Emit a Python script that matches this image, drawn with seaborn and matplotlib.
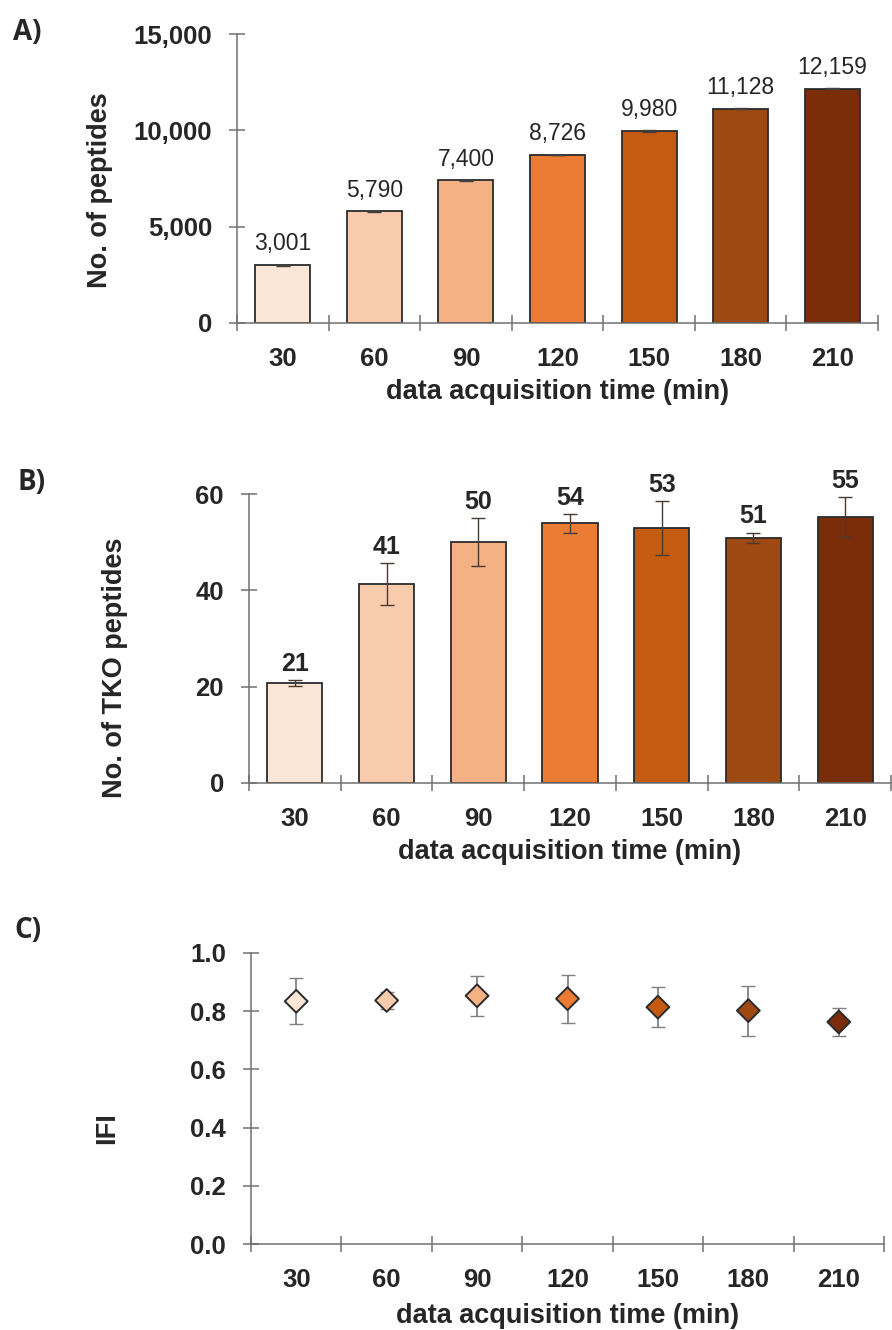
import matplotlib
matplotlib.use("Agg")
import matplotlib.pyplot as plt
import seaborn as sns
import numpy as np

# data
times = ["30", "60", "90", "120", "150", "180", "210"]
peptides = [3001, 5790, 7400, 8726, 9980, 11128, 12159]
peptides_err = [20, 45, 45, 15, 50, 15, 15]
tko = [20.7, 41.3, 50.0, 53.9, 52.9, 50.9, 55.2]
tko_err = [0.6, 4.4, 5.0, 2.0, 5.6, 1.1, 4.1]
tko_labels = ["21", "41", "50", "54", "53", "51", "55"]
ifi = [0.834, 0.837, 0.853, 0.843, 0.814, 0.802, 0.763]
ifi_err = [0.079, 0.03, 0.068, 0.083, 0.07, 0.086, 0.049]
colors = ["#FBE5D6", "#F8CBAD", "#F4B183", "#EC7C33", "#C55A11", "#9E4812", "#7B2C08"]

sns.set_style("ticks")
plt.rcParams["font.family"] = ["Liberation Sans", "DejaVu Sans"]

W, H = 892, 1330
AXIS_COL = "#707070"
EDGE = "#2b2b2b"
TICK_FS = 18.5
LAB_FS = 19.5


def add_axes(fig, left, right, top, bottom):
    return fig.add_axes([left / W, 1 - bottom / H, (right - left) / W, (bottom - top) / H])


def style_axis(ax, ymax, yticks, yticklabels):
    sns.despine(ax=ax)
    for s in ["left", "bottom"]:
        ax.spines[s].set_color(AXIS_COL)
        ax.spines[s].set_linewidth(1.1)
    ax.set_xlim(-0.5, 6.5)
    ax.set_ylim(0, ymax)
    # labels at category centres, tick marks between categories
    ax.set_xticks(range(len(times)))
    ax.set_xticklabels(times, fontsize=TICK_FS, fontweight="bold")
    ax.tick_params(axis="x", which="major", bottom=True, length=0, pad=17)
    ax.set_xticks(np.arange(-0.5, len(times), 1), minor=True)
    ax.tick_params(axis="x", which="minor", bottom=True, direction="inout", length=12,
                   color=AXIS_COL, width=1.1)
    ax.set_yticks(yticks)
    ax.set_yticklabels(yticklabels, fontsize=TICK_FS, fontweight="bold")
    ax.tick_params(axis="y", left=True, direction="inout", length=12, color=AXIS_COL,
                   width=1.1, pad=12)
    ax.set_xlabel("data acquisition time (min)", fontsize=LAB_FS, fontweight="bold",
                  va="center")


fig = plt.figure(figsize=(W / 100, H / 100), dpi=100)
fig.patch.set_facecolor("white")

# ---- A) number of peptides
axA = add_axes(fig, 237, 878, 34, 323)
sns.barplot(x=times, y=peptides, hue=times, palette=colors, legend=False, width=0.6,
            saturation=1, edgecolor=EDGE, linewidth=1.3, ax=axA)
axA.errorbar(range(len(times)), peptides, yerr=peptides_err, fmt="none",
             ecolor="#404040", elinewidth=1, capsize=5)
for i, v in enumerate(peptides):
    axA.annotate(f"{v:,}", (i, v), xytext=(0, 7), textcoords="offset points",
                 ha="center", va="bottom", fontsize=16.5)
style_axis(axA, 15000, [0, 5000, 10000, 15000], ["0", "5,000", "10,000", "15,000"])
axA.set_ylabel("No. of peptides", fontsize=LAB_FS, fontweight="bold", va="center")
axA.yaxis.set_label_coords(-0.214, 0.46)
axA.xaxis.set_label_coords(0.5, -0.239)

# ---- B) number of TKO peptides
axB = add_axes(fig, 249, 891, 494, 783)
sns.barplot(x=times, y=tko, hue=times, palette=colors, legend=False, width=0.6,
            saturation=1, edgecolor=EDGE, linewidth=1.3, ax=axB)
axB.errorbar(range(len(times)), tko, yerr=tko_err, fmt="none",
             ecolor="#4a3a30", elinewidth=1, capsize=5)
for i, (v, e) in enumerate(zip(tko, tko_err)):
    axB.annotate(tko_labels[i], (i, v + e), xytext=(0, 3), textcoords="offset points",
                 ha="center", va="bottom", fontsize=18, fontweight="bold")
style_axis(axB, 60, [0, 20, 40, 60], ["0", "20", "40", "60"])
axB.set_ylabel("No. of TKO peptides", fontsize=LAB_FS, fontweight="bold", va="center")
axB.yaxis.set_label_coords(-0.209, 0.40)
axB.xaxis.set_label_coords(0.5, -0.239)

# ---- C) IFI
axC = add_axes(fig, 251, 884, 953, 1244)
axC.errorbar(range(len(times)), ifi, yerr=ifi_err, fmt="none",
             ecolor="#808080", elinewidth=1.3, capsize=5, zorder=2)
sns.scatterplot(x=times, y=ifi, hue=times, palette=colors, legend=False, marker="D",
                s=135, edgecolor=EDGE, linewidth=1.4, zorder=3, ax=axC)
style_axis(axC, 1.0, [0, 0.2, 0.4, 0.6, 0.8, 1.0],
           ["0.0", "0.2", "0.4", "0.6", "0.8", "1.0"])
axC.set_ylabel("IFI", fontsize=LAB_FS, fontweight="bold", va="center")
axC.yaxis.set_label_coords(-0.2275, 0.40)
axC.xaxis.set_label_coords(0.5, -0.247)

# panel letters
for lab, x, y in [("A)", 13, 32), ("B)", 17, 483), ("C)", 14, 930)]:
    fig.text(x / W, 1 - y / H, lab, fontsize=20, fontweight="bold",
             family=["Open Sans", "DejaVu Sans"], ha="left", va="center")

fig.savefig("out.png", dpi=100, facecolor="white")
